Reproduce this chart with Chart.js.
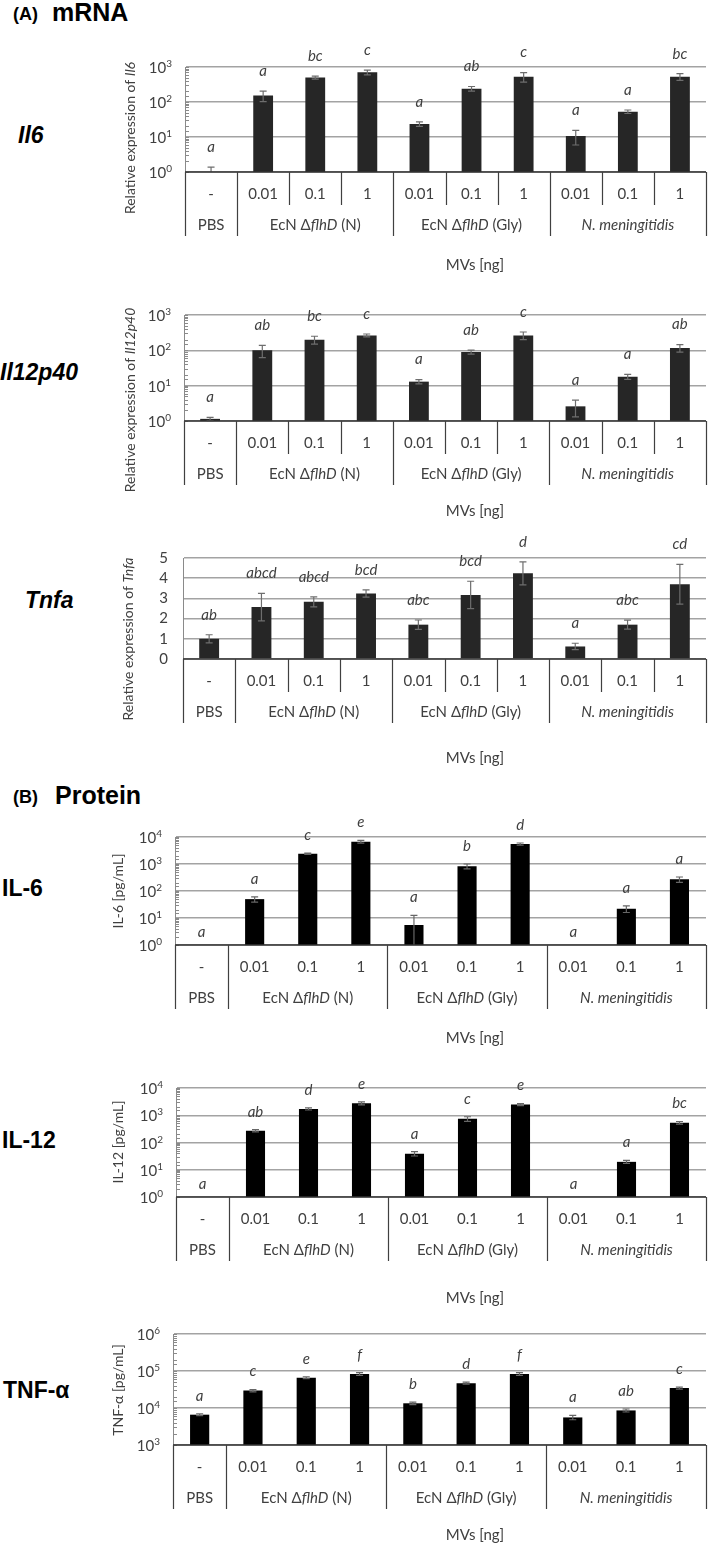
<!DOCTYPE html>
<html>
<head>
<meta charset="utf-8">
<script src="https://cdn.jsdelivr.net/npm/chart.js@4.4.0/dist/chart.umd.min.js"></script>
<style>
    body { margin: 0; background: #fff; }
    #page { position: relative; width: 709px; height: 1547px; overflow: hidden; font-family: 'Liberation Sans', Arial, sans-serif; }
    .lbl { position: absolute; font-weight: bold; color: #000; white-space: nowrap; line-height: 1; transform: translateY(-50%); }
    .gene { font-style: italic; font-size: 23px; }
    .prot { font-size: 23px; }
    canvas { position: absolute; left: 0; }
</style>
</head>
<body>
<div id="page">
    <div class="lbl" style="left:13px;top:14px;font-size:18px">(A)</div>
    <div class="lbl" style="left:52px;top:12px;font-size:25px">mRNA</div>
    <div class="lbl gene" style="left:18px;top:135px">Il6</div>
    <div class="lbl gene" style="left:0px;top:372px">Il12p40</div>
    <div class="lbl gene" style="left:25px;top:600px">Tnfa</div>
    <div class="lbl" style="left:13px;top:797px;font-size:18px">(B)</div>
    <div class="lbl" style="left:55px;top:795px;font-size:25px">Protein</div>
    <div class="lbl prot" style="left:2px;top:888px">IL-6</div>
    <div class="lbl prot" style="left:2px;top:1140px">IL-12</div>
    <div class="lbl prot" style="left:3px;top:1390px">TNF-α</div>
</div>
<script>
// Categorías (eje x) y grupos de la tabla
const doses = ['-', '0.01', '0.1', '1', '0.01', '0.1', '1', '0.01', '0.1', '1'];
const groups = ['PBS', 'EcN Δ*flhD* (N)', 'EcN Δ*flhD* (Gly)', '*N. meningitidis*'];
const groupSizes = [1, 3, 3, 3];

// (A) mRNA
const il6Values = [1.0, 153, 500, 705, 23.6, 241, 530, 10.7, 53, 530];
const il6Errors = [0.38, 51, 50, 110, 3.4, 36, 160, 4.8, 6, 115];
const il6Letters = ['a', 'a', 'bc', 'c', 'a', 'ab', 'c', 'a', 'a', 'bc'];

const il12p40Values = [1.15, 100, 200, 265, 13, 90, 265, 2.6, 18, 117];
const il12p40Errors = [0.12, 38, 50, 25, 1.8, 12, 65, 1.3, 3, 28];
const il12p40Letters = ['a', 'ab', 'bc', 'c', 'a', 'ab', 'c', 'a', 'a', 'ab'];

const tnfaValues = [1.0, 2.57, 2.83, 3.24, 1.70, 3.17, 4.24, 0.62, 1.70, 3.70];
const tnfaErrors = [0.2, 0.68, 0.25, 0.18, 0.23, 0.68, 0.57, 0.16, 0.22, 0.98];
const tnfaLetters = ['ab', 'abcd', 'abcd', 'bcd', 'abc', 'bcd', 'd', 'a', 'abc', 'cd'];

// (B) Protein
const il6ProtValues = [null, 50, 2400, 6700, 5.5, 830, 5500, null, 22, 270];
const il6ProtErrors = [null, 11, 120, 800, 7, 170, 500, null, 6, 60];
const il6ProtLetters = ['a', 'a', 'c', 'e', 'a', 'b', 'd', 'a', 'a', 'a'];

const il12ProtValues = [null, 270, 1710, 2750, 39, 740, 2460, null, 19.5, 530];
const il12ProtErrors = [null, 25, 150, 350, 7, 140, 220, null, 2.5, 60];
const il12ProtLetters = ['a', 'ab', 'd', 'e', 'a', 'c', 'e', 'a', 'a', 'bc'];

const tnfProtValues = [6600, 29500, 66000, 83000, 13400, 47000, 83000, 5560, 8600, 34500];
const tnfProtErrors = [400, 2100, 4000, 7000, 1100, 3000, 7000, 740, 800, 2200];
const tnfProtLetters = ['a', 'c', 'e', 'f', 'b', 'd', 'f', 'a', 'ab', 'c'];

const FONT = 'Lato, "Open Sans", sans-serif';
const TXT = '#404040';
const GRID = '#a3a3a3';

// texto con partes en cursiva marcadas con *
function drawRich(ctx, s, x, y, size, align) {
    const parts = s.split('*').map((t, i) => ({ t: t, it: i % 2 === 1 })).filter(p => p.t);
    const fontOf = p => (p.it ? 'italic ' : '') + size + 'px ' + FONT;
    let total = 0;
    parts.forEach(p => { ctx.font = fontOf(p); total += ctx.measureText(p.t).width; });
    let cx = align === 'center' ? x - total / 2 : (align === 'right' ? x - total : x);
    ctx.textAlign = 'left';
    parts.forEach(p => {
        ctx.font = fontOf(p);
        ctx.fillText(p.t, cx, y);
        cx += ctx.measureText(p.t).width;
    });
}

function isPow10(v) {
    const e = Math.log10(v);
    return Math.abs(e - Math.round(e)) < 1e-6;
}

function panelPlugin(cfg) {
    return {
        id: 'panel_' + cfg.key,
        afterDatasetsDraw(chart) {
            const ctx = chart.ctx;
            const ys = chart.scales.y;
            const xs = chart.scales.x;
            const a = chart.chartArea;
            const w = (a.right - a.left) / doses.length;
            ctx.save();
            ctx.fillStyle = TXT;
            ctx.textBaseline = 'middle';

            // marcas menores y etiquetas 10^n
            if (cfg.log) {
                ys.ticks.forEach(t => {
                    const py = Math.round(ys.getPixelForValue(t.value)) + 0.5;
                    ctx.strokeStyle = '#8a8a8a';
                    ctx.lineWidth = 1;
                    ctx.beginPath();
                    ctx.moveTo(a.left, py);
                    ctx.lineTo(a.left + 4, py);
                    ctx.stroke();
                    if (!isPow10(t.value)) return;
                    const sup = String(Math.round(Math.log10(t.value)));
                    ctx.font = '10px ' + FONT;
                    const sw = ctx.measureText(sup).width;
                    const rx = a.left - 13;
                    ctx.textAlign = 'right';
                    ctx.font = '15px ' + FONT;
                    ctx.fillText('10', rx - sw, py + 1);
                    ctx.textAlign = 'left';
                    ctx.font = '10px ' + FONT;
                    ctx.fillText(sup, rx - sw, py - 4);
                });
            }

            // barras de error y letras
            cfg.values.forEach((v, i) => {
                const cx = xs.getPixelForValue(i);
                let letterY = a.bottom - 13;
                if (v != null) {
                    const e = cfg.errors[i];
                    const top = ys.getPixelForValue(v + e);
                    const lo = v - e > ys.min ? v - e : ys.min;
                    const bot = ys.getPixelForValue(lo);
                    ctx.strokeStyle = cfg.errColor;
                    ctx.lineWidth = 1.2;
                    ctx.beginPath();
                    ctx.moveTo(cx, top); ctx.lineTo(cx, bot);
                    ctx.moveTo(cx - 3.5, top); ctx.lineTo(cx + 3.5, top);
                    if (v - e > ys.min) { ctx.moveTo(cx - 3.5, bot); ctx.lineTo(cx + 3.5, bot); }
                    ctx.stroke();
                    letterY = top - cfg.letterGap;
                }
                ctx.font = 'italic 15px ' + FONT;
                ctx.textAlign = 'center';
                ctx.fillText(cfg.letters[i], cx, letterY);
            });

            // línea base y tabla
            ctx.strokeStyle = '#333';
            ctx.lineWidth = 1.5;
            ctx.beginPath();
            ctx.moveTo(a.left, a.bottom);
            ctx.lineTo(a.right, a.bottom);
            ctx.stroke();

            ctx.lineWidth = 1.2;
            ctx.strokeStyle = '#404040';
            const bounds = [0];
            groupSizes.forEach(g => bounds.push(bounds[bounds.length - 1] + g));
            ctx.beginPath();
            bounds.forEach(b => {
                const bx = Math.round(a.left + b * w) + 0.5;
                ctx.moveTo(bx, a.bottom);
                ctx.lineTo(bx, a.bottom + 64);
            });
            if (cfg.doseLines) {
                for (let k = 1; k < doses.length; k++) {
                    if (bounds.includes(k)) continue;
                    const bx = Math.round(a.left + k * w) + 0.5;
                    ctx.moveTo(bx, a.bottom);
                    ctx.lineTo(bx, a.bottom + 33);
                }
            }
            ctx.stroke();

            ctx.fillStyle = TXT;
            ctx.font = '15px ' + FONT;
            ctx.textAlign = 'center';
            doses.forEach((d, i) => ctx.fillText(d, xs.getPixelForValue(i), a.bottom + 22));
            groups.forEach((g, k) => {
                const gx = a.left + (bounds[k] + bounds[k + 1]) / 2 * w;
                drawRich(ctx, g, gx, a.bottom + 53, 15, 'center');
            });
            ctx.font = '15px ' + FONT;
            ctx.textAlign = 'center';
            ctx.fillText('MVs [ng]', cfg.mvsX, cfg.mvsY - cfg.top);

            // título del eje y
            ctx.save();
            ctx.translate(cfg.titleX, cfg.titleY - cfg.top);
            ctx.rotate(-Math.PI / 2);
            drawRich(ctx, cfg.title, 0, 0, 14, 'center');
            ctx.restore();

            ctx.restore();
        }
    };
}

function makePanel(cfg) {
    const page = document.getElementById('page');
    const cv = document.createElement('canvas');
    const H = cfg.bottom - cfg.top;
    cv.width = 709;
    cv.height = H;
    cv.style.top = cfg.top + 'px';
    page.appendChild(cv);

    const yTicks = cfg.log
        ? { display: false }
        : { stepSize: 1, autoSkip: false, padding: 15, color: TXT, font: { family: FONT, size: 15 } };

    new Chart(cv.getContext('2d'), {
        type: 'bar',
        data: {
            labels: doses,
            datasets: [{
                data: cfg.values,
                backgroundColor: cfg.barColor,
                borderWidth: 0,
                barPercentage: cfg.barPct,
                categoryPercentage: 1
            }]
        },
        options: {
            responsive: false,
            animation: false,
            layout: {
                padding: {
                    left: 0,
                    right: 709 - cfg.right,
                    top: cfg.areaTop - cfg.top,
                    bottom: H - (cfg.base - cfg.top)
                }
            },
            plugins: {
                legend: { display: false },
                tooltip: { enabled: false }
            },
            scales: {
                x: { display: false },
                y: {
                    type: cfg.log ? 'logarithmic' : 'linear',
                    min: cfg.min,
                    max: cfg.max,
                    afterFit: s => { s.width = cfg.left; },
                    border: { display: true, color: '#8a8a8a', width: 1 },
                    grid: {
                        drawTicks: false,
                        lineWidth: 1.5,
                        color: c => (!cfg.log || (c.tick && isPow10(c.tick.value))) ? GRID : 'rgba(0,0,0,0)'
                    },
                    ticks: yTicks
                }
            }
        },
        plugins: [panelPlugin(cfg)]
    });
}

document.addEventListener('DOMContentLoaded', function() {
    // Gráficas de mRNA
    makePanel({ key: 'il6', values: il6Values, errors: il6Errors, letters: il6Letters,
        title: 'Relative expression of *Il6*', log: true, min: 1, max: 1000,
        top: 38, areaTop: 67, base: 172, bottom: 282, left: 185, right: 706,
        titleX: 130, titleY: 138, mvsX: 475, mvsY: 265,
        barColor: '#262626', errColor: '#6e6e6e', barPct: 0.38, letterGap: 20, doseLines: true });

    makePanel({ key: 'il12p40', values: il12p40Values, errors: il12p40Errors, letters: il12p40Letters,
        title: 'Relative expression of *Il12p40*', log: true, min: 1, max: 1000,
        top: 285, areaTop: 315, base: 421, bottom: 525, left: 184, right: 706,
        titleX: 130, titleY: 400, mvsX: 475, mvsY: 511,
        barColor: '#262626', errColor: '#6e6e6e', barPct: 0.38, letterGap: 20, doseLines: true });

    makePanel({ key: 'tnfa', values: tnfaValues, errors: tnfaErrors, letters: tnfaLetters,
        title: 'Relative expression of *Tnfa*', log: false, min: 0, max: 5,
        top: 530, areaTop: 558, base: 659, bottom: 775, left: 183, right: 706,
        titleX: 128, titleY: 639, mvsX: 475, mvsY: 758,
        barColor: '#262626', errColor: '#6e6e6e', barPct: 0.38, letterGap: 20, doseLines: true });

    // Gráficas de proteína
    makePanel({ key: 'il6p', values: il6ProtValues, errors: il6ProtErrors, letters: il6ProtLetters,
        title: 'IL-6 [pg/mL]', log: true, min: 1, max: 10000,
        top: 812, areaTop: 837, base: 945, bottom: 1050, left: 175, right: 706,
        titleX: 118, titleY: 891, mvsX: 475, mvsY: 1038,
        barColor: '#000', errColor: '#666', barPct: 0.36, letterGap: 18, doseLines: false });

    makePanel({ key: 'il12p', values: il12ProtValues, errors: il12ProtErrors, letters: il12ProtLetters,
        title: 'IL-12 [pg/mL]', log: true, min: 1, max: 10000,
        top: 1052, areaTop: 1088, base: 1197, bottom: 1308, left: 176, right: 706,
        titleX: 118, titleY: 1142, mvsX: 475, mvsY: 1298,
        barColor: '#000', errColor: '#666', barPct: 0.36, letterGap: 18, doseLines: false });

    makePanel({ key: 'tnfp', values: tnfProtValues, errors: tnfProtErrors, letters: tnfProtLetters,
        title: 'TNF-α [pg/mL]', log: true, min: 1000, max: 1000000,
        top: 1310, areaTop: 1334, base: 1445, bottom: 1547, left: 173, right: 706,
        titleX: 118, titleY: 1390, mvsX: 475, mvsY: 1535,
        barColor: '#000', errColor: '#666', barPct: 0.36, letterGap: 18, doseLines: false });
});
</script>
</body>
</html>
